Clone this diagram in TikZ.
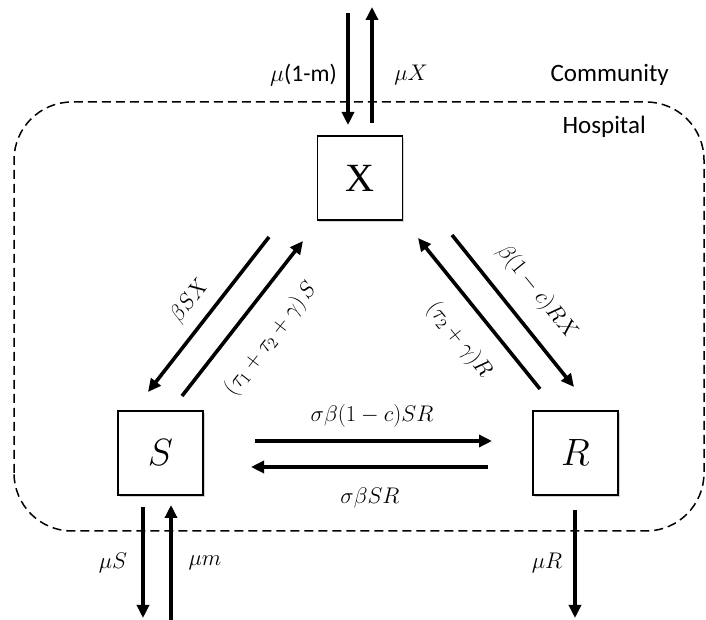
\documentclass[tikz,border=0pt]{standalone}
\usepackage[no-math]{fontspec}
\usepackage{fix-cm}
\newfontfamily\calibri{Carlito}
\newfontfamily\timesf{Liberation Serif}
\usetikzlibrary{arrows.meta,shadows}
\begin{document}
\begin{tikzpicture}[x=1pt,y=1pt,
  compbox/.style={draw=black,line width=1.1pt,fill=white,minimum width=85pt,minimum height=84pt,inner sep=0pt,
    drop shadow={shadow xshift=1.5pt,shadow yshift=-2pt,opacity=0.35}},
  flow/.style={line width=3.6pt,-{Triangle[length=13pt,width=12pt]}},
  lbl/.style={font=\fontsize{20}{24}\selectfont,inner sep=0pt,scale=1.13},
  place/.style={font=\calibri\fontsize{25}{30}\selectfont,inner sep=0pt}]
\useasboundingbox (0,0) rectangle (706,620);
% hospital boundary
\draw[line width=1.5pt,dash pattern=on 9pt off 5pt,rounded corners=58pt] (14,89) rectangle (704,518);
\node[place,anchor=east] (comm) at (669,545) {Community};
\node[place,anchor=east] (hosp) at (646,493) {Hospital};
% compartments
\node[compbox,font=\timesf\fontsize{40}{46}\selectfont] (X) at (360,442) {X};
\node[compbox] (S) at (160.5,167) {\fontsize{38}{44}\selectfont $S$};
\node[compbox] (R) at (575.5,167) {\fontsize{38}{44}\selectfont $R$};
% endpoints
\coordinate (tdA) at (348,607); \coordinate (tdB) at (348,495);
\coordinate (tuA) at (372,497); \coordinate (tuB) at (372,613);
\coordinate (xsA) at (269,383); \coordinate (xsB) at (148,228);
\coordinate (sxA) at (182,224); \coordinate (sxB) at (303,379);
\coordinate (rxA) at (540,231); \coordinate (rxB) at (418,382);
\coordinate (xrA) at (452,385); \coordinate (xrB) at (574,233);
\coordinate (srA) at (255,179); \coordinate (srB) at (492,179);
\coordinate (rsA) at (488,153); \coordinate (rsB) at (251,153);
\coordinate (sdA) at (143,113); \coordinate (sdB) at (143,2);
\coordinate (suA) at (171,-2);  \coordinate (suB) at (171,115);
\coordinate (rdA) at (575,110); \coordinate (rdB) at (575,2);
% flows
\draw[flow] (tdA) -- (tdB);
\draw[flow] (tuA) -- (tuB);
\draw[flow] (xsA) -- (xsB);
\draw[flow] (sxA) -- (sxB);
\draw[flow] (rxA) -- (rxB);
\draw[flow] (xrA) -- (xrB);
\draw[flow] (srA) -- (srB);
\draw[flow] (rsA) -- (rsB);
\draw[flow] (sdA) -- (sdB);
\draw[flow] (suA) -- (suB);
\draw[flow] (rdA) -- (rdB);
% labels
\node[lbl,anchor=east,font=\calibri\fontsize{21}{25}\selectfont] (l1) at (337,545) {$\mu$(1-m)};
\node[lbl] (l2) at (411,545) {$\mu X$};
\node[lbl,rotate=52] (l3) at (190,319) {$\beta SX$};
\node[lbl,rotate=52] (l4) at (271,281) {$(\tau_1+\tau_2+\gamma)\,S$};
\node[lbl,rotate=-51] (l5) at (537,328) {$\beta(1-c)RX$};
\node[lbl,rotate=-51] (l6) at (459,280) {$(\tau_2+\gamma)R$};
\node[lbl] (l7) at (372,204) {$\sigma\beta(1-c)SR$};
\node[lbl] (l8) at (370,122) {$\sigma\beta SR$};
\node[lbl] (l9) at (113,57) {$\mu S$};
\node[lbl] (l10) at (205,57) {$\mu m$};
\node[lbl] (l11) at (547,57) {$\mu R$};
\end{tikzpicture}
\end{document}
